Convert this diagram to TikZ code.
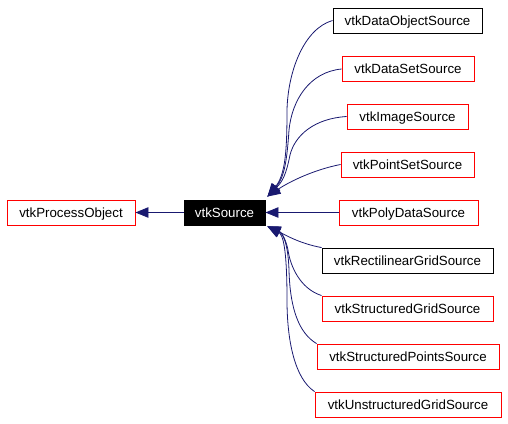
\documentclass[tikz,border=0pt]{standalone}
\usepackage{fontspec}
\setmainfont{Liberation Sans}
\usetikzlibrary{arrows.meta,calc}
\definecolor{edgeblue}{HTML}{191970}
\tikzset{
  box/.style={draw, line width=0.9pt, inner sep=0pt, minimum height=25pt, text height=9.5pt, text depth=0pt, font=\fontsize{13.3}{15}\selectfont, text=black},
  redbox/.style={box, draw=red},
  blackbox/.style={box, draw=black},
  srcbox/.style={box, fill=black, draw=black, text=white},
  edge/.style={draw=edgeblue, line width=0.8pt, -{Triangle[length=13pt,width=10.5pt]}, fill=none},
}
\begin{document}
\begin{tikzpicture}[x=1pt,y=-1pt]
\useasboundingbox (0,0) rectangle (508,423);
\node[redbox, minimum width=128pt] (po) at (71,212.5) {vtkProcessObject};
\node[srcbox, minimum width=81pt] (src) at (224.5,212.5) {vtkSource};
\node[blackbox, minimum width=149pt] (dos) at (407.5,20.5) {vtkDataObjectSource};
\node[redbox, minimum width=132pt] (dss) at (408,69) {vtkDataSetSource};
\node[redbox, minimum width=121pt] (is) at (407.5,116.5) {vtkImageSource};
\node[redbox, minimum width=133pt] (pss) at (407.5,164.5) {vtkPointSetSource};
\node[redbox, minimum width=139pt] (pds) at (408.5,212.5) {vtkPolyDataSource};
\node[blackbox, minimum width=171pt] (rgs) at (407.5,260.5) {vtkRectilinearGridSource};
\node[redbox, minimum width=171pt] (sgs) at (407.5,308.5) {vtkStructuredGridSource};
\node[redbox, minimum width=182pt] (sps) at (408,356.5) {vtkStructuredPointsSource};
\node[redbox, minimum width=186pt] (ugs) at (408,404.5) {vtkUnstructuredGridSource};
\coordinate (tipup) at ($(src.north east)+(2,-3)$);
\coordinate (tipdn) at ($(src.south east)+(2,1)$);
% edges
\draw[edge] (src.west) -- (po.east);
\draw[edge] (dos.west) .. controls +(-28,8) and +(1,-40) .. (287,110) .. controls +(0,40) and +(18,-22) .. (tipup);
\draw[edge] (dss.west) .. controls +(-32,3) and +(3,-30) .. (289,130) .. controls +(-2,30) and +(17,-19) .. (tipup);
\draw[edge] (is.west) .. controls +(-32,2) and +(5,-20) .. (290,155) .. controls +(-4,20) and +(15,-15) .. (tipup);
\draw[edge] (pss.west) .. controls +(-26,5) and +(22,-15) .. (tipup);
\draw[edge] (pds.west) -- (src.east);
\draw[edge] (rgs.north west) .. controls +(-22,-4) and +(17,8) .. (tipdn);
\draw[edge] (sgs.north west) .. controls +(-22,-7) and +(2,15) .. (288,250) .. controls +(-3,-15) and +(12,5) .. (tipdn);
\draw[edge] (sps.north west) .. controls +(-17,-10) and +(1,40) .. (289,270) .. controls +(-1,-30) and +(14,6) .. (tipdn);
\draw[edge] (ugs.north west) .. controls +(-20,-13) and +(0,40) .. (287,300) .. controls +(0,-55) and +(15,8) .. (tipdn);
\end{tikzpicture}
\end{document}
